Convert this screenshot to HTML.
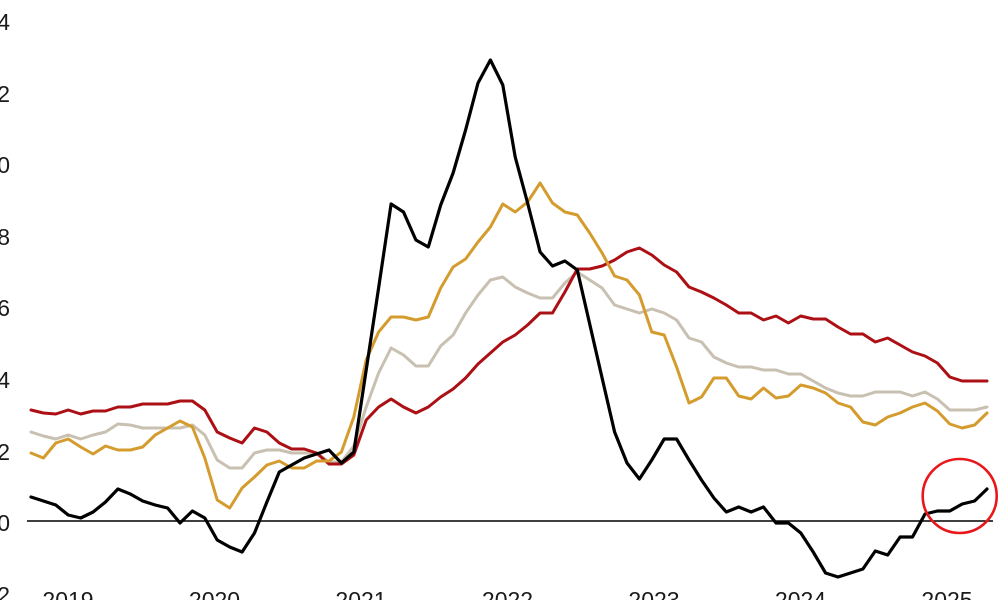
<!DOCTYPE html>
<html>
<head>
<meta charset="utf-8">
<style>
  html, body { margin:0; padding:0; background:#ffffff; }
  body { width:1000px; height:600px; overflow:hidden; }
  svg { display:block; }
  text { font-family: "Liberation Sans", "DejaVu Sans", sans-serif; font-size:23px; fill:#1a1a1a; }
</style>
</head>
<body>
<svg width="1000" height="600" viewBox="0 0 1000 600" xmlns="http://www.w3.org/2000/svg">
  <rect x="0" y="0" width="1000" height="600" fill="#ffffff"/>

  <!-- Y axis labels -->
  <g text-anchor="end">
    <text x="10" y="30">14</text>
    <text x="10" y="102">12</text>
    <text x="10" y="173">10</text>
    <text x="10" y="245">8</text>
    <text x="10" y="316">6</text>
    <text x="10" y="388">4</text>
    <text x="10" y="460">2</text>
    <text x="10" y="531">0</text>
    <text x="10" y="603">-2</text>
  </g>

  <!-- X axis labels -->
  <g text-anchor="middle">
    <text x="68" y="608">2019</text>
    <text x="214.5" y="608">2020</text>
    <text x="361" y="608">2021</text>
    <text x="507.5" y="608">2022</text>
    <text x="654" y="608">2023</text>
    <text x="800.5" y="608">2024</text>
    <text x="947" y="608">2025</text>
  </g>

  <!-- zero line -->
  <line x1="27" y1="521" x2="993" y2="521" stroke="#000" stroke-width="1.5"/>

  <g fill="none" stroke-linejoin="round" stroke-linecap="round">
    <!-- beige -->
    <polyline stroke="#C8C0B1" stroke-width="3" points="31.0,432 43.4,436 55.8,439 68.2,435 80.7,439 93.1,435 105.5,432 117.9,424 130.3,425 142.7,428 155.2,428 167.6,428 180.0,428 192.4,425 204.8,435 217.2,460 229.7,468 242.1,468 254.5,453 266.9,450 279.3,450 291.7,453 304.2,453 316.6,453 329.0,462 341.4,462 353.8,446 366.2,407 378.6,373 391.1,348 403.5,355 415.9,366 428.3,366 440.7,346 453.1,335 465.6,313 478.0,295 490.4,280 502.8,277 515.2,287 527.6,293 540.1,298 552.5,298 564.9,283 577.3,272 589.7,280 602.1,288 614.6,305 627.0,309 639.4,313 651.8,309 664.2,313 676.6,320 689.0,338 701.5,342 713.9,357 726.3,363 738.7,367 751.1,367 763.5,370 776.0,370 788.4,374 800.8,374 813.2,381 825.6,388 838.0,393 850.5,396 862.9,396 875.3,392 887.7,392 900.1,392 912.5,396 925.0,392 937.4,399 949.8,410 962.2,410 974.6,410 987.0,407"/>
    <!-- red -->
    <polyline stroke="#AC0F14" stroke-width="3" points="31.0,410 43.4,413 55.8,414 68.2,410 80.7,414 93.1,411 105.5,411 117.9,407 130.3,407 142.7,404 155.2,404 167.6,404 180.0,401 192.4,401 204.8,410 217.2,432 229.7,438 242.1,443 254.5,428 266.9,432 279.3,443 291.7,449 304.2,449 316.6,453 329.0,464 341.4,464 353.8,455 366.2,420 378.6,407 391.1,399 403.5,407 415.9,413 428.3,407 440.7,397 453.1,389 465.6,378 478.0,364 490.4,353 502.8,342 515.2,335 527.6,325 540.1,313 552.5,313 564.9,292 577.3,269 589.7,269 602.1,266 614.6,260 627.0,252 639.4,248 651.8,255 664.2,265 676.6,272 689.0,287 701.5,292 713.9,298 726.3,305 738.7,313 751.1,313 763.5,320 776.0,316 788.4,323 800.8,316 813.2,319 825.6,319 838.0,327 850.5,334 862.9,334 875.3,342 887.7,338 900.1,345 912.5,352 925.0,356 937.4,363 949.8,377 962.2,381 974.6,381 987.0,381"/>
    <!-- gold -->
    <polyline stroke="#D49C2E" stroke-width="3" points="31.0,453 43.4,458 55.8,443 68.2,439 80.7,447 93.1,454 105.5,446 117.9,450 130.3,450 142.7,447 155.2,435 167.6,428 180.0,421 192.4,427 204.8,458 217.2,500 229.7,508 242.1,488 254.5,477 266.9,465 279.3,461 291.7,468 304.2,468 316.6,461 329.0,461 341.4,452 353.8,417 366.2,360 378.6,332 391.1,317 403.5,317 415.9,320 428.3,317 440.7,288 453.1,267 465.6,259 478.0,242 490.4,227 502.8,204 515.2,212 527.6,202 540.1,183 552.5,203 564.9,212 577.3,215 589.7,233 602.1,253 614.6,276 627.0,280 639.4,295 651.8,332 664.2,335 676.6,367 689.0,403 701.5,397 713.9,378 726.3,378 738.7,396 751.1,399 763.5,388 776.0,398 788.4,396 800.8,385 813.2,388 825.6,393 838.0,403 850.5,407 862.9,422 875.3,425 887.7,417 900.1,413 912.5,407 925.0,403 937.4,411 949.8,424 962.2,428 974.6,425 987.0,413"/>
    <!-- black -->
    <polyline stroke="#000000" stroke-width="3.2" points="31.0,497 43.4,501 55.8,505 68.2,515 80.7,518 93.1,512 105.5,502 117.9,489 130.3,494 142.7,501 155.2,505 167.6,508 180.0,523 192.4,511 204.8,518 217.2,540 229.7,547 242.1,552 254.5,533 266.9,502 279.3,472 291.7,465 304.2,458 316.6,454 329.0,450 341.4,463 353.8,452 366.2,370 378.6,288 391.1,204 403.5,212 415.9,240 428.3,247 440.7,205 453.1,173 465.6,130 478.0,83 490.4,60 502.8,85 515.2,157 527.6,203 540.1,252 552.5,266 564.9,261 577.3,270 589.7,324 602.1,378 614.6,432 627.0,463 639.4,479 651.8,460 664.2,439 676.6,439 689.0,460 701.5,480 713.9,498 726.3,512 738.7,507 751.1,512 763.5,507 776.0,523 788.4,523 800.8,533 813.2,552 825.6,573 838.0,577 850.5,573 862.9,569 875.3,551 887.7,555 900.1,537 912.5,537 925.0,514 937.4,511 949.8,511 962.2,504 974.6,501 987.0,489"/>
  </g>

  <!-- highlight circle -->
  <circle cx="959.7" cy="496" r="37" fill="none" stroke="#E8171B" stroke-width="2.6"/>
</svg>
</body>
</html>
